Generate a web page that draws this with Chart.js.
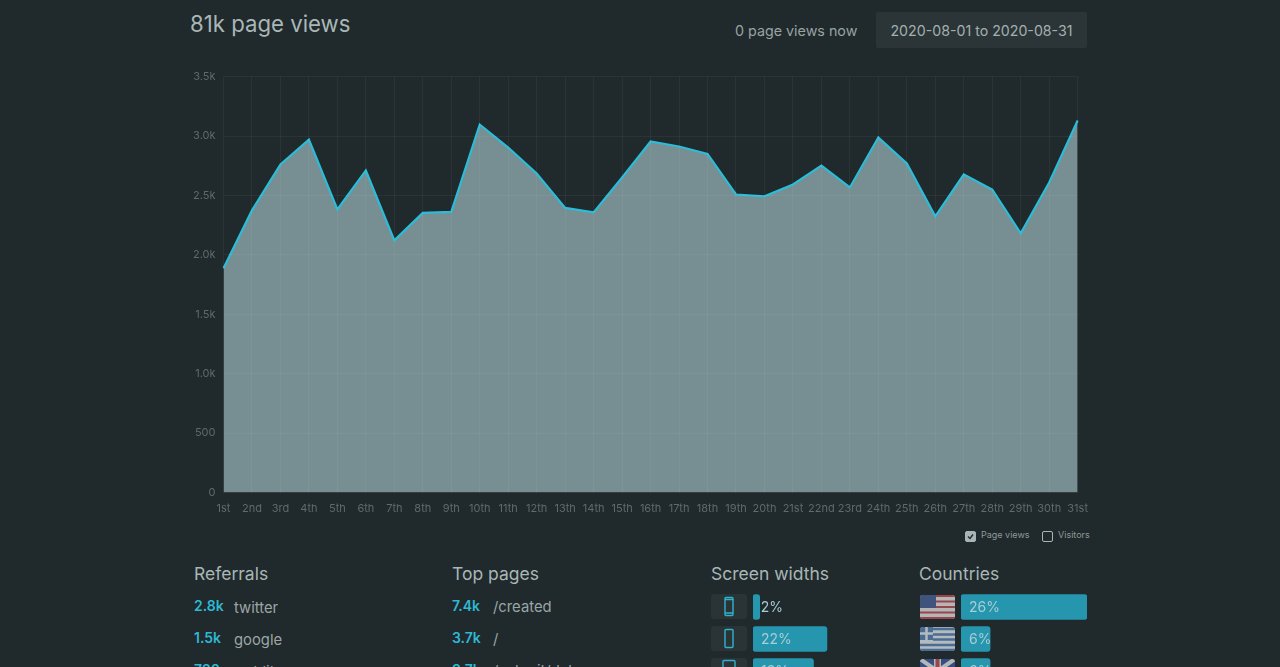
<!DOCTYPE html>
<html>
<head>
<meta charset="utf-8">
<title>81k page views</title>
<script src="https://cdn.jsdelivr.net/npm/chart.js@4"></script>
<style>
  html, body { margin: 0; height: 667px; overflow: hidden; background: #20292b; font-family: Inter, sans-serif; color: #a9b5b5; }
  .abs { position: absolute; white-space: nowrap; }
  canvas { position: absolute; }
  #title { left: 190px; top: 9px; font-size: 22.2px; line-height: 30px; color: #a9b7b7; }
  #now { left: 735px; top: 22px; font-size: 14.3px; line-height: 18px; color: #97a3a3; }
  #range { left: 876px; top: 12px; width: 211px; height: 36px; line-height: 37px; background: #2b3537; text-align: center; font-size: 14.2px; color: #a4b0b0; border-radius: 2px; }
  .check { width: 9px; height: 9px; border: 1px solid #a9b5b5; border-radius: 2px; }
  .legend { font-size: 9px; line-height: 12px; color: #8d9999; }
  h3 { margin: 0; position: absolute; font-weight: 400; font-size: 17.5px; line-height: 22px; color: #a9b7b7; white-space: nowrap; }
  .num { font-weight: 600; font-size: 14px; line-height: 18px; color: #2fb8d4; }
  .lbl { font-size: 14.8px; line-height: 18px; color: #9aa6a6; }
  .tile { left: 711px; width: 36px; height: 25px; background: #2a3436; border-radius: 3px; }
  .flag { left: 920px; width: 35px; height: 24px; border-radius: 3px; overflow: hidden; opacity: .75; }
</style>
</head>
<body>
<div class="abs" id="title">81k page views</div>
<div class="abs" id="now">0 page views now</div>
<div class="abs" id="range">2020-08-01 to 2020-08-31</div>

<canvas id="chart" style="left:190px;top:62px"></canvas>

<div class="abs check" style="left:965px;top:531px;background:#a9b5b5"></div>
<svg class="abs" style="left:965px;top:531px" width="11" height="11"><path d="M3 5.500l2 2 3-4" fill="none" stroke="#20292b" stroke-width="1.3"/></svg>
<div class="abs legend" style="left:981px;top:529px">Page views</div>
<div class="abs check" style="left:1042px;top:531px"></div>
<div class="abs legend" style="left:1058px;top:529px">Visitors</div>

<h3 style="left:194px;top:563px">Referrals</h3>
<h3 style="left:452px;top:563px">Top pages</h3>
<h3 style="left:711px;top:563px">Screen widths</h3>
<h3 style="left:919px;top:563px">Countries</h3>

<div id="lists"></div>

<div class="abs tile" style="top:594px"></div>
<div class="abs tile" style="top:626px"></div>
<div class="abs tile" style="top:658px"></div>
<svg class="abs" style="left:711px;top:594px" width="36" height="90" fill="none" stroke="#2fb2cf" stroke-width="1.4">
  <rect x="14" y="3.5" width="8" height="18" rx="1"/><path d="M14 5.500h8M14 19h8"/>
  <rect x="14" y="35.5" width="8" height="18" rx="1"/>
  <rect x="12" y="66.5" width="12" height="18" rx="1"/>
</svg>

<div class="abs flag" style="top:595px">
  <svg width="35" height="24" viewBox="0 0 35 24">
    <rect width="35" height="24" fill="#e8e4e4"/>
    <path d="M0 1h35M0 6.500h35M0 12h35M0 17.500h35M0 23h35" stroke="#c0505a" stroke-width="2"/>
    <rect width="16" height="13" fill="#4a6299"/>
  </svg>
</div>
<div class="abs flag" style="top:627px">
  <svg width="35" height="24" viewBox="0 0 35 24">
    <rect width="35" height="24" fill="#e6ecf0"/>
    <path d="M0 2h35M13 7.500h22M13 12.500h22M0 18h35M0 23h35" stroke="#5a84b8" stroke-width="2.500"/>
    <rect width="13" height="13" fill="#5a84b8"/>
    <path d="M6.500 0v13M0 6.500h13" stroke="#e6ecf0" stroke-width="2.500"/>
  </svg>
</div>
<div class="abs flag" style="top:659px">
  <svg width="35" height="24" viewBox="0 0 35 24">
    <rect width="35" height="24" fill="#3d5a9c"/>
    <path d="M0 0l35 24M35 0L0 24" stroke="#e6e6e6" stroke-width="4"/>
    <path d="M17.500 0v24M0 12h35" stroke="#e6e6e6" stroke-width="7"/>
    <path d="M17.500 0v24M0 12h35" stroke="#c0505a" stroke-width="4"/>
  </svg>
</div>

<canvas id="widths" style="left:753px;top:590.5px"></canvas>
<canvas id="countries" style="left:961px;top:590.5px"></canvas>

<script>
const days = ["1st","2nd","3rd","4th","5th","6th","7th","8th","9th","10th","11th","12th","13th","14th","15th","16th","17th","18th","19th","20th","21st","22nd","23rd","24th","25th","26th","27th","28th","29th","30th","31st"];
const pageViews = [1887,2374,2760,2970,2382,2710,2122,2353,2361,3097,2903,2685,2395,2357,2651,2954,2912,2849,2508,2492,2592,2752,2567,2987,2769,2324,2676,2550,2181,2609,3130];

const referralCounts = ["2.8k","1.5k","720"];
const referralNames = ["twitter","google","reddit"];
const pageCounts = ["7.4k","3.7k","3.7k"];
const pageNames = ["/created","/","/submit/data"];

const widthNames = ["small phone","phone","tablet"];
const widthShares = [2,22,18];
const countryNames = ["United States","Greece","United Kingdom"];
const countryShares = [26,6,6];

// text lists under the chart
const lists = document.getElementById("lists");
function addRow(cls, text, left, top) {
  const el = document.createElement("div");
  el.className = "abs " + cls;
  el.textContent = text;
  el.style.left = left + "px";
  el.style.top = top + "px";
  lists.appendChild(el);
}
referralCounts.forEach((c, i) => {
  addRow("num", c, 194, 597 + i * 32);
  addRow("lbl", referralNames[i], 234, 599 + i * 32);
});
pageCounts.forEach((c, i) => {
  addRow("num", c, 452, 597 + i * 32);
  addRow("lbl", pageNames[i], 493, 598 + i * 32);
});

// main chart
const chartCanvas = document.getElementById("chart");
chartCanvas.width = 908;
chartCanvas.height = 458;
new Chart(chartCanvas.getContext("2d"), {
  type: "line",
  data: {
    labels: days,
    datasets: [{
      label: "Page views",
      data: pageViews,
      borderColor: "#2bbcd8",
      borderWidth: 2.2,
      backgroundColor: "rgba(196,234,238,0.53)",
      fill: "origin",
      tension: 0,
      pointRadius: 0,
    }],
  },
  options: {
    responsive: false,
    animation: false,
    layout: { padding: { top: 6, right: 12 } },
    plugins: { legend: { display: false }, tooltip: { enabled: false } },
    scales: {
      x: {
        afterFit: s => { s.height = 27.5; },
        grid: { color: "rgba(255,255,255,0.05)", drawTicks: false, z: 1 },
        border: { display: false },
        ticks: { color: "#5e6a6c", font: { family: "Inter", size: 11 }, padding: 10, maxRotation: 0, autoSkip: false },
      },
      y: {
        min: 0,
        max: 3500,
        afterFit: s => { s.width = 33.5; },
        grid: { color: "rgba(255,255,255,0.05)", drawTicks: false, z: 1 },
        border: { display: false },
        ticks: {
          stepSize: 500,
          color: "#5e6a6c",
          font: { family: "Inter", size: 11 },
          padding: 8,
          callback: v => (v >= 1000 ? (v / 1000).toFixed(1) + "k" : v),
        },
      },
    },
  },
});

// percent labels sit at the start of each bar
const barLabels = {
  id: "barLabels",
  afterDatasetsDraw(chart) {
    const ctx = chart.ctx;
    const bars = chart.getDatasetMeta(0).data;
    ctx.save();
    ctx.font = "14px Inter";
    ctx.fillStyle = "#a8cdd4";
    ctx.textBaseline = "middle";
    bars.forEach((bar, i) => {
      const value = chart.data.datasets[0].data[i];
      const x = value < 4 ? bar.x + 1 : bar.base + 8;
      ctx.fillText(value + "%", x, bar.y + 1);
    });
    ctx.restore();
  },
};

function shareChart(id, names, shares, maxShare, width) {
  const canvas = document.getElementById(id);
  canvas.width = width;
  canvas.height = 96;
  new Chart(canvas.getContext("2d"), {
    type: "bar",
    data: {
      labels: names,
      datasets: [{ data: shares, backgroundColor: "#2596ae", barThickness: 25, borderRadius: 3, borderSkipped: false }],
    },
    options: {
      indexAxis: "y",
      responsive: false,
      animation: false,
      plugins: { legend: { display: false }, tooltip: { enabled: false } },
      scales: {
        x: { display: false, min: 0, max: maxShare },
        y: { display: false },
      },
    },
    plugins: [barLabels],
  });
}
shareChart("widths", widthNames, widthShares, 25, 84);
shareChart("countries", countryNames, countryShares, 26, 126);
</script>
</body>
</html>
